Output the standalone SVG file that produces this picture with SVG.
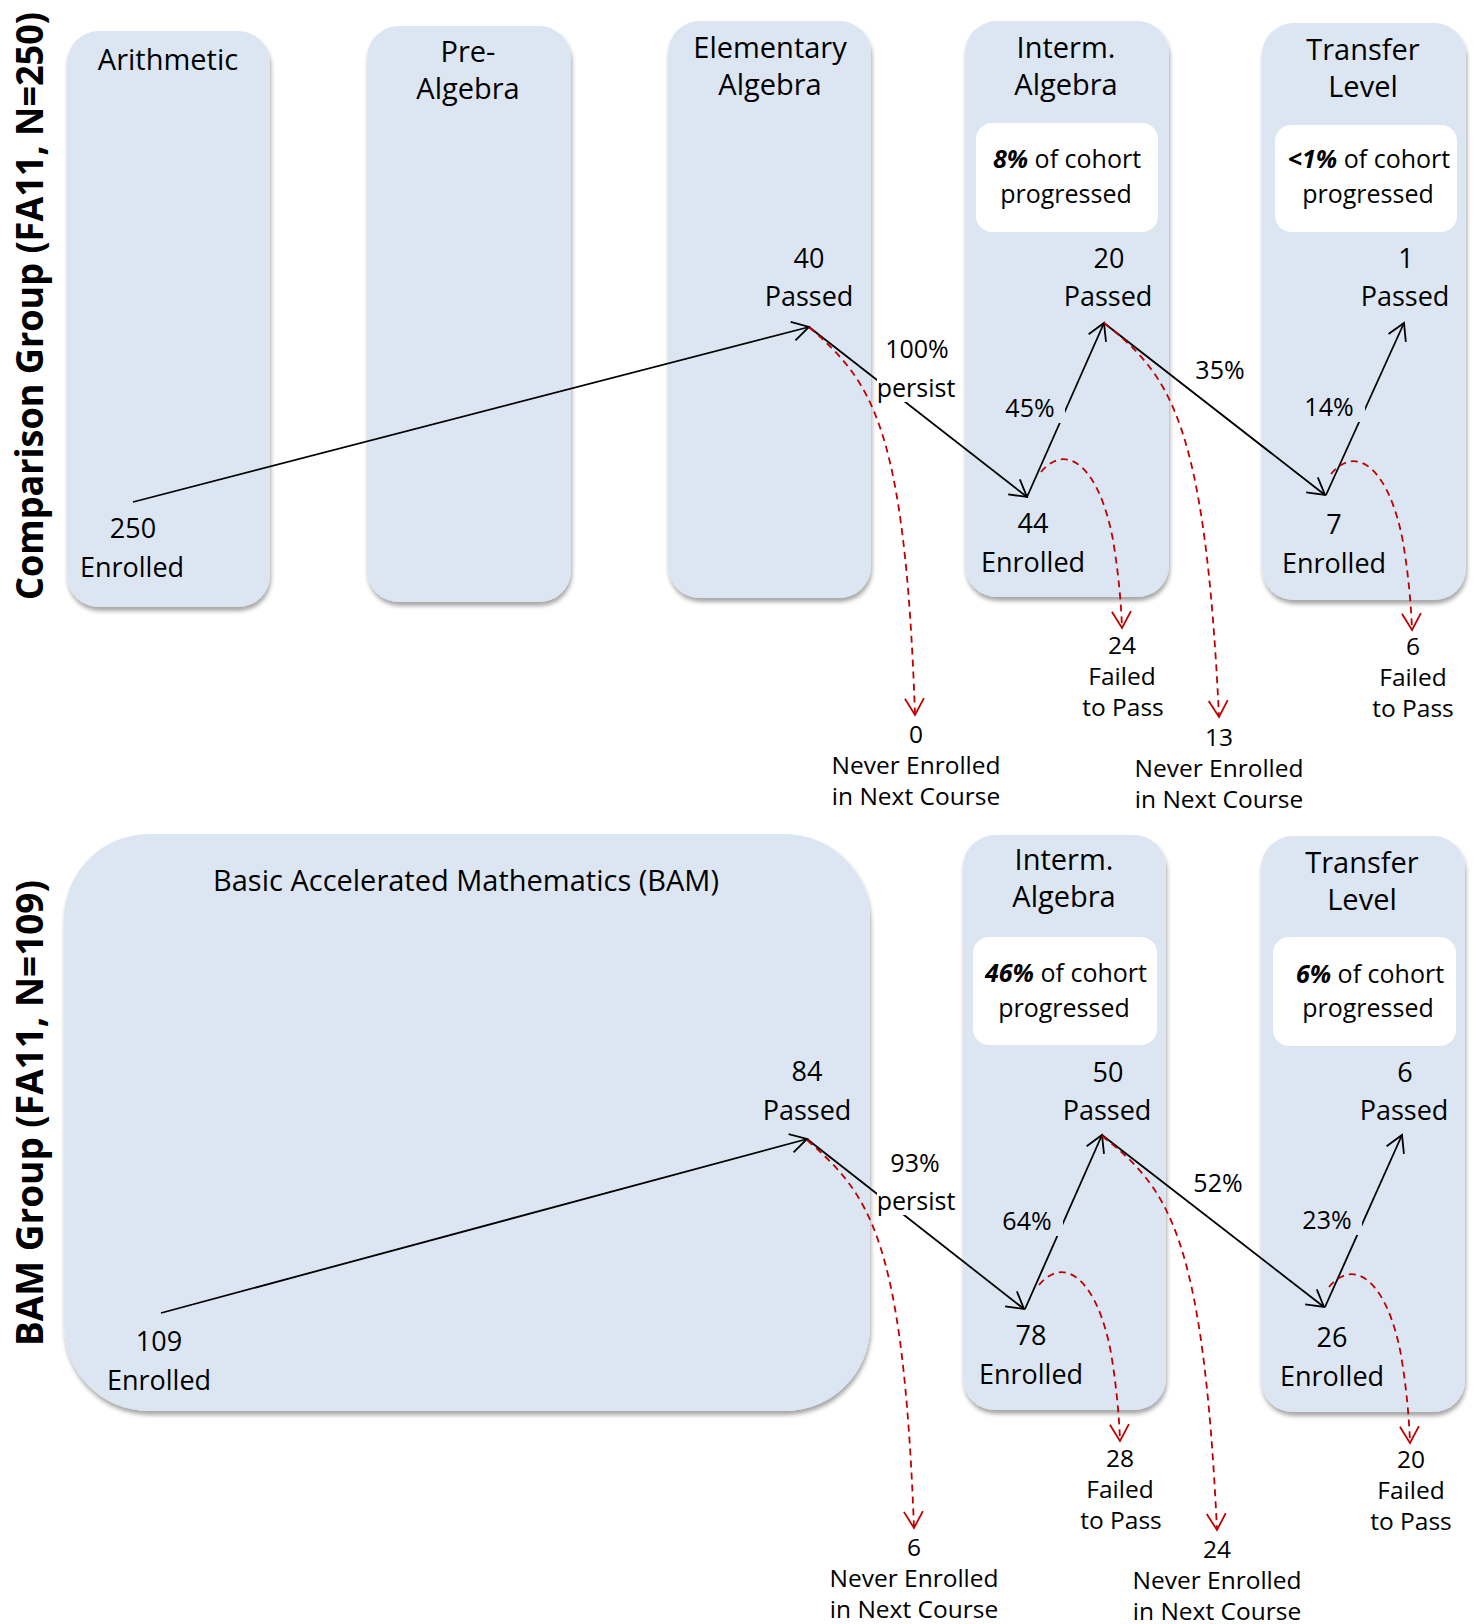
<svg xmlns="http://www.w3.org/2000/svg" width="1478" height="1624" viewBox="0 0 1478 1624">
<defs>
<style>
text{font-family:"Open Sans","Liberation Sans",sans-serif;fill:#000;text-anchor:middle}
.box{fill:#DCE6F2;filter:url(#sh)}
.wbox{fill:#fff}
.hd{font-size:29px}
.num{font-size:27px}
.pct{font-size:25px}
.fail{font-size:24.5px}
.coh{font-size:25px}
.bi{font-weight:bold;font-style:italic}
.title{font-size:38px;font-weight:bold}
.conn{fill:none;stroke:#000;stroke-width:1.8;marker-end:url(#ah)}
.drop{fill:none;stroke:#C00000;stroke-width:1.8;stroke-dasharray:7 5;marker-end:url(#ahr)}
.mask{fill:#fff}
.bmask{fill:#DCE6F2}
</style>
<filter id="sh" x="-5%" y="-5%" width="115%" height="115%">
<feGaussianBlur in="SourceAlpha" stdDeviation="2"/>
<feOffset dx="1" dy="4" result="o"/>
<feComponentTransfer><feFuncA type="linear" slope="0.35"/></feComponentTransfer>
<feMerge><feMergeNode/><feMergeNode in="SourceGraphic"/></feMerge>
</filter>
<marker id="ah" markerUnits="userSpaceOnUse" markerWidth="24" markerHeight="24" refX="19" refY="12" orient="auto" overflow="visible">
<path d="M2.5,2.5 L19,12 L2.5,21.5" fill="none" stroke="#000" stroke-width="1.8"/>
</marker>
<marker id="ahr" markerUnits="userSpaceOnUse" markerWidth="24" markerHeight="24" refX="19" refY="12" orient="auto" overflow="visible">
<path d="M2.5,2.5 L19,12 L2.5,21.5" fill="none" stroke="#C00000" stroke-width="1.8"/>
</marker>
</defs>
<rect width="1478" height="1624" fill="#fff"/>

<g id="title-comparison"><text class="title" transform="translate(43,306) rotate(-90)" textLength="588" lengthAdjust="spacingAndGlyphs">Comparison Group (FA11, N=250)</text></g>
<g id="title-bam"><text class="title" transform="translate(43,1113) rotate(-90)" textLength="466" lengthAdjust="spacingAndGlyphs">BAM Group (FA11, N=109)</text></g>

<g id="col-arithmetic"><rect class="box" x="67" y="31" width="203" height="576" rx="32"/><text class="hd" x="168" y="70">Arithmetic</text></g>
<g id="col-prealgebra"><rect class="box" x="367" y="26" width="204" height="576" rx="32"/><text class="hd" x="468" y="62">Pre-</text><text class="hd" x="468" y="99">Algebra</text></g>
<g id="col-elementary"><rect class="box" x="668" y="21" width="203" height="577" rx="32"/><text class="hd" x="770" y="58">Elementary</text><text class="hd" x="770" y="95">Algebra</text></g>
<g id="col-interm-top"><rect class="box" x="965" y="21" width="204" height="576" rx="32"/><text class="hd" x="1066" y="58">Interm.</text><text class="hd" x="1066" y="95">Algebra</text>
<rect class="wbox" x="976" y="123" width="182" height="109" rx="16"/><text class="coh" x="1067" y="168"><tspan class="bi">8%</tspan> of cohort</text><text class="coh" x="1066" y="203">progressed</text></g>
<g id="col-transfer-top"><rect class="box" x="1262" y="23" width="204" height="577" rx="32"/><text class="hd" x="1363" y="60">Transfer</text><text class="hd" x="1363" y="97">Level</text>
<rect class="wbox" x="1275" y="125" width="182" height="107" rx="16"/><text class="coh" x="1369" y="168"><tspan class="bi">&lt;1%</tspan> of cohort</text><text class="coh" x="1368" y="203">progressed</text></g>

<g id="col-bam"><rect class="box" x="64" y="834" width="806" height="577" rx="85"/><text class="hd" x="466" y="891">Basic Accelerated Mathematics (BAM)</text></g>
<g id="col-interm-bottom"><rect class="box" x="963" y="835" width="203" height="575" rx="32"/><text class="hd" x="1064" y="870">Interm.</text><text class="hd" x="1064" y="907">Algebra</text>
<rect class="wbox" x="973" y="937" width="184" height="108" rx="16"/><text class="coh" x="1066" y="982"><tspan class="bi">46%</tspan> of cohort</text><text class="coh" x="1064" y="1017">progressed</text></g>
<g id="col-transfer-bottom"><rect class="box" x="1261" y="836" width="204" height="576" rx="32"/><text class="hd" x="1362" y="873">Transfer</text><text class="hd" x="1362" y="910">Level</text>
<rect class="wbox" x="1273" y="937" width="183" height="109" rx="16"/><text class="coh" x="1370" y="983"><tspan class="bi">6%</tspan> of cohort</text><text class="coh" x="1368" y="1017">progressed</text></g>

<g id="connectors">
<path class="conn" d="M133,502 L809,327"/>
<path class="conn" d="M809,327 L1027,497"/>
<path class="conn" d="M1027,497 L1104,323"/>
<path class="conn" d="M1104,323 L1325,495"/>
<path class="conn" d="M1326,495 L1404,323"/>
<path class="drop" d="M809,327 C872,382 905,425 915,715"/>
<path class="drop" d="M1104,323 C1170,375 1205,420 1219,717"/>
<path class="drop" d="M1041,472 C1068,440 1100,470 1113,540 C1118,570 1121,600 1122,628"/>
<path class="drop" d="M1331,474 C1358,442 1390,472 1403,542 C1408,572 1411,602 1412,630"/>
<path class="conn" d="M161,1313 L807,1139"/>
<path class="conn" d="M807,1139 L1024,1309"/>
<path class="conn" d="M1025,1309 L1102,1135"/>
<path class="conn" d="M1102,1135 L1324,1307"/>
<path class="conn" d="M1325,1307 L1402,1135"/>
<path class="drop" d="M807,1140 C870,1195 903,1238 914,1528"/>
<path class="drop" d="M1102,1136 C1168,1188 1203,1233 1217,1530"/>
<path class="drop" d="M1039,1285 C1066,1253 1098,1283 1111,1353 C1116,1383 1119,1413 1120,1441"/>
<path class="drop" d="M1329,1287 C1356,1255 1388,1285 1401,1355 C1406,1385 1409,1415 1410,1443"/>
</g>

<g id="lbl-persist-top"><rect class="mask" x="877" y="378" width="82" height="24"/><text class="pct" x="917" y="358">100%</text><text class="pct" x="916" y="397">persist</text></g>
<g id="lbl-45"><rect class="bmask" x="1003" y="393" width="62" height="30"/><text class="pct" x="1030" y="417">45%</text></g>
<g id="lbl-35"><text class="pct" x="1220" y="379">35%</text></g>
<g id="lbl-14"><rect class="bmask" x="1302" y="392" width="63" height="30"/><text class="pct" x="1329" y="416">14%</text></g>
<g id="lbl-persist-bottom"><rect class="mask" x="877" y="1191" width="82" height="24"/><text class="pct" x="915" y="1172">93%</text><text class="pct" x="916" y="1210">persist</text></g>
<g id="lbl-64"><rect class="bmask" x="999" y="1206" width="64" height="30"/><text class="pct" x="1027" y="1230">64%</text></g>
<g id="lbl-52"><text class="pct" x="1218" y="1192">52%</text></g>
<g id="lbl-23"><rect class="bmask" x="1300" y="1205" width="62" height="30"/><text class="pct" x="1327" y="1229">23%</text></g>

<g id="n-250"><text class="num" x="133" y="538">250</text><text class="num" x="132" y="577">Enrolled</text></g>
<g id="n-40"><text class="num" x="809" y="268">40</text><text class="num" x="809" y="306">Passed</text></g>
<g id="n-44"><text class="num" x="1033" y="533">44</text><text class="num" x="1033" y="572">Enrolled</text></g>
<g id="n-20"><text class="num" x="1109" y="268">20</text><text class="num" x="1108" y="306">Passed</text></g>
<g id="n-7"><text class="num" x="1334" y="534">7</text><text class="num" x="1334" y="573">Enrolled</text></g>
<g id="n-1"><text class="num" x="1406" y="268">1</text><text class="num" x="1405" y="306">Passed</text></g>

<g id="n-109"><text class="num" x="159" y="1351">109</text><text class="num" x="159" y="1390">Enrolled</text></g>
<g id="n-84"><text class="num" x="807" y="1081">84</text><text class="num" x="807" y="1120">Passed</text></g>
<g id="n-78"><text class="num" x="1031" y="1345">78</text><text class="num" x="1031" y="1384">Enrolled</text></g>
<g id="n-50"><text class="num" x="1108" y="1082">50</text><text class="num" x="1107" y="1120">Passed</text></g>
<g id="n-26"><text class="num" x="1332" y="1347">26</text><text class="num" x="1332" y="1386">Enrolled</text></g>
<g id="n-6p"><text class="num" x="1405" y="1082">6</text><text class="num" x="1404" y="1120">Passed</text></g>

<g id="f-0"><text class="fail" x="916" y="743">0</text><text class="fail" x="916" y="774">Never Enrolled</text><text class="fail" x="916" y="805">in Next Course</text></g>
<g id="f-24"><text class="fail" x="1122" y="654">24</text><text class="fail" x="1122" y="685">Failed</text><text class="fail" x="1123" y="716">to Pass</text></g>
<g id="f-13"><text class="fail" x="1219" y="746">13</text><text class="fail" x="1219" y="777">Never Enrolled</text><text class="fail" x="1219" y="808">in Next Course</text></g>
<g id="f-6"><text class="fail" x="1413" y="655">6</text><text class="fail" x="1413" y="686">Failed</text><text class="fail" x="1413" y="717">to Pass</text></g>

<g id="f-6n"><text class="fail" x="914" y="1556">6</text><text class="fail" x="914" y="1587">Never Enrolled</text><text class="fail" x="914" y="1618">in Next Course</text></g>
<g id="f-28"><text class="fail" x="1120" y="1467">28</text><text class="fail" x="1120" y="1498">Failed</text><text class="fail" x="1121" y="1529">to Pass</text></g>
<g id="f-24n"><text class="fail" x="1217" y="1558">24</text><text class="fail" x="1217" y="1589">Never Enrolled</text><text class="fail" x="1217" y="1620">in Next Course</text></g>
<g id="f-20"><text class="fail" x="1411" y="1468">20</text><text class="fail" x="1411" y="1499">Failed</text><text class="fail" x="1411" y="1530">to Pass</text></g>
</svg>
